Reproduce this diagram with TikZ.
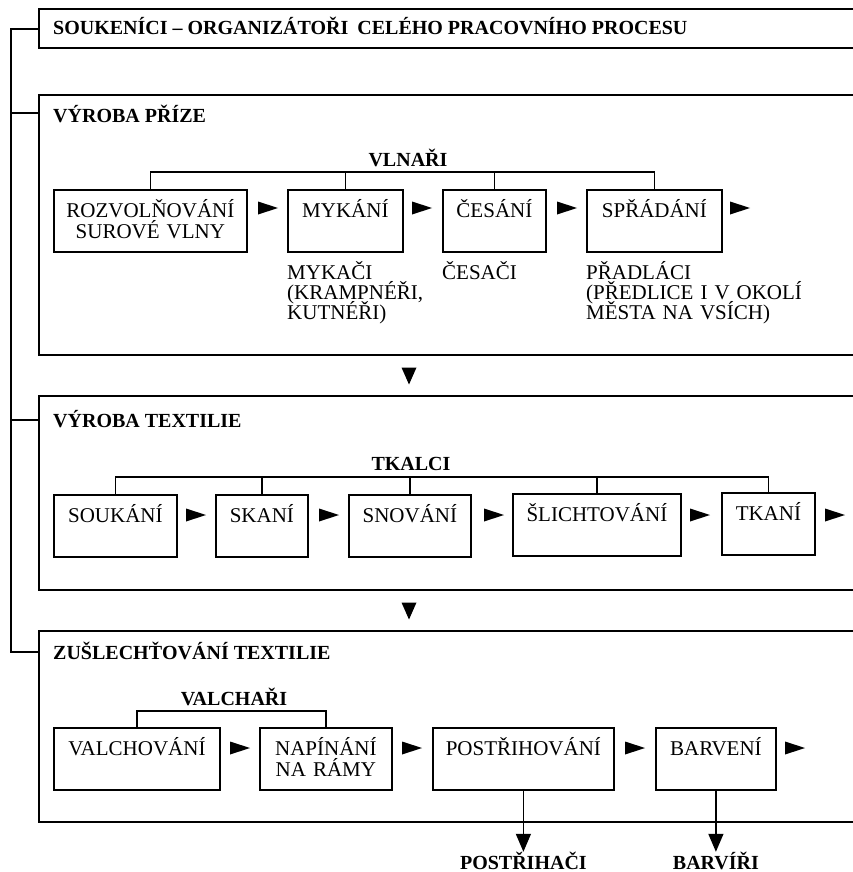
\documentclass[tikz,border=0pt]{standalone}
\usepackage{fontspec}
\setmainfont{Liberation Serif}
\usetikzlibrary{arrows.meta}
\setlength{\lineskiplimit}{-100pt}
\setlength{\normallineskiplimit}{-100pt}

\begin{document}
\begin{tikzpicture}[x=1pt, y=-1pt,
	krok/.style={draw, line width=1.8pt, anchor=north west, inner sep=0pt, align=center,
		text height=28pt, text depth=34pt, font=\fontsize{21pt}{20.5pt}\selectfont},
	popis/.style={anchor=base west, inner sep=0pt, align=left, text width=260pt,
		font=\fontsize{21pt}{20pt}\selectfont},
	nadpis/.style={inner sep=0pt, font=\fontsize{20pt}{20pt}\selectfont\bfseries},
	spoj/.style={line width=1.4pt},
	ramec/.style={line width=1.8pt}]
	\useasboundingbox (0,0) rectangle (853,872);

	% ramce oddilu
	\draw[ramec] (860,9) -| (39,48) -- (860,48);
	\draw[ramec] (860,95) -| (39,355) -- (860,355);
	\draw[ramec] (860,396) -| (39,590) -- (860,590);
	\draw[ramec] (860,631) -| (39,822) -- (860,822);
	\draw[spoj] (39,29) -| (11,652) -- (39,652);
	\draw[spoj] (11,113) -- (39,113);
	\draw[spoj] (11,420) -- (39,420);

	\node[nadpis, anchor=base west] (soukenici) at (53,35) {SOUKENÍCI – ORGANIZÁTOŘI\hspace{4pt} CELÉHO PRACOVNÍHO PROCESU};
	\node[nadpis, anchor=base west] (prize) at (53,122) {VÝROBA PŘÍZE};
	\node[nadpis, anchor=base west] (textilie) at (53,427) {VÝROBA TEXTILIE};
	\node[nadpis, anchor=base west] (zuslecht) at (53,659) {ZUŠLECHŤOVÁNÍ TEXTILIE};

	% vyroba prize
	\node[krok, text width=193pt] (rozvol) at (53,189) {ROZVOLŇOVÁNÍ\\SUROVÉ VLNY};
	\node[krok, text width=115pt] (mykani) at (287,189) {MYKÁNÍ};
	\node[krok, text width=103pt] (cesani) at (442,189) {ČESÁNÍ};
	\node[krok, text width=135pt] (spradani) at (586,189) {SPŘÁDÁNÍ};

	\coordinate (vlnh) at (408,172);
	\draw[spoj] (rozvol.north) |- (vlnh) -| (spradani.north);
	\draw[spoj] (mykani.north) -- (mykani.north |- vlnh);
	\draw[spoj] (cesani.north) -- (cesani.north |- vlnh);
	\node[nadpis, anchor=base] (vlnari) at (408,166) {VLNAŘI};

	\node[popis] (mykaci) at (287,279) {MYKAČI\\(KRAMPNÉŘI,\\KUTNÉŘI)};
	\node[popis] (cesaci) at (442,279) {ČESAČI};
	\node[popis] (pradlaci) at (586,279) {PŘADLÁCI\\(PŘEDLICE I V OKOLÍ\\MĚSTA NA VSÍCH)};

	% vyroba textilie
	\node[krok, text width=123pt] (soukani) at (53,494) {SOUKÁNÍ};
	\node[krok, text width=92pt] (skani) at (215,494) {SKANÍ};
	\node[krok, text width=122pt] (snovani) at (348,494) {SNOVÁNÍ};
	\node[krok, text width=168pt] (slicht) at (512,493) {ŠLICHTOVÁNÍ};
	\node[krok, text width=93pt] (tkani) at (721,492) {TKANÍ};

	\coordinate (tkh) at (411,477);
	\draw[spoj] (soukani.north) |- (tkh) -| (tkani.north);
	\draw[spoj] (skani.north) -- (skani.north |- tkh);
	\draw[spoj] (snovani.north) -- (snovani.north |- tkh);
	\draw[spoj] (slicht.north) -- (slicht.north |- tkh);
	\node[nadpis, anchor=base] (tkalci) at (411,470) {TKALCI};

	% zuslechtovani
	\node[krok, text width=166pt] (valchov) at (53,727) {VALCHOVÁNÍ};
	\node[krok, text width=132pt] (napinani) at (259,727) {NAPÍNÁNÍ\\NA RÁMY};
	\node[krok, text width=181pt] (postrih) at (432,727) {POSTŘIHOVÁNÍ};
	\node[krok, text width=120pt] (barveni) at (655,727) {BARVENÍ};

	\coordinate (vah) at (234,711);
	\draw[spoj] (valchov.north) |- (vah) -| (napinani.north);
	\node[nadpis, anchor=base] (valchari) at (234,705) {VALCHAŘI};

	\draw[spoj, -{Triangle[width=15pt,length=18pt]}] (postrih.south) -- ++(0,61) coordinate (p1);
	\draw[spoj, -{Triangle[width=15pt,length=18pt]}] (barveni.south) -- ++(0,61) coordinate (p2);
	\node[nadpis, anchor=base] (postrihaci) at (p1 |- 0,869) {POSTŘIHAČI};
	\node[nadpis, anchor=base] (barviri) at (p2 |- 0,869) {BARVÍŘI};

	% sipky
	\foreach \x/\y in {268/208, 422/208, 567/208, 740/208,
		196/515, 329/515, 494/515, 700/515, 835/515,
		240/748, 412/748, 635/748, 795/748}
		\fill (\x,\y) ++(-10,-6.5) -- ++(20,6.5) -- ++(-20,6.5) -- cycle;
	\foreach \y in {376, 611}
		\fill (409,\y) ++(-7.5,-8.5) -- ++(15,0) -- ++(-7.5,17) -- cycle;
\end{tikzpicture}
\end{document}
